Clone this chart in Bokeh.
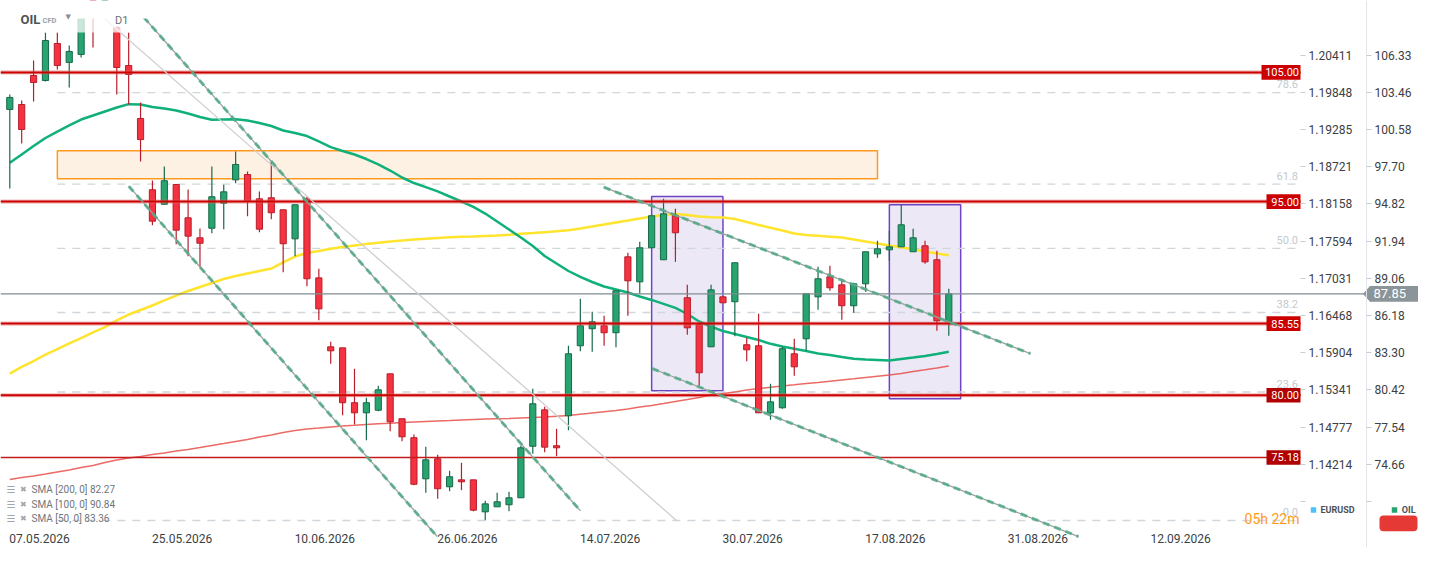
from bokeh.plotting import figure
from bokeh.models import Range1d, LinearAxis, FixedTicker
from bokeh.core.properties import value
from bokeh.embed import file_html
from bokeh.resources import INLINE

FONT = "Roboto"
SYM = "DejaVu Sans"

# ---------------- data (daily OHLC, bar index 0..79) ----------------
opens = [102.13, 102.51, 104.76, 104.37, 107.24, 105.77, 106.39, 110.57, 110.10, 108.48,
         105.53, 101.43, 95.91, 94.79, 96.32, 93.74, 92.19, 92.93, 94.87, 96.68,
         97.09, 95.21, 95.29, 94.36, 92.11, 95.21, 89.09, 83.75, 83.67, 79.42,
         78.64, 78.84, 81.66, 78.18, 76.71, 73.53, 75.08, 72.91, 73.45, 73.45,
         70.97, 71.36, 71.52, 72.06, 76.05, 78.87, 76.09, 78.41, 83.83, 85.15,
         85.38, 84.84, 90.72, 88.78, 91.42, 90.49, 93.90, 87.55, 85.46, 83.75,
         87.62, 87.24, 83.91, 83.83, 78.64, 79.03, 83.21, 84.37, 87.62, 89.17,
         88.55, 86.93, 88.63, 90.95, 91.26, 91.49, 91.11, 91.57, 90.49, 85.69]
highs = [103.29, 102.82, 105.92, 108.09, 108.09, 107.08, 110.26, 111.03, 112.46, 108.55,
         108.09, 102.67, 96.63, 97.71, 96.32, 95.93, 92.91, 97.71, 96.30, 98.87,
         97.33, 95.78, 98.02, 94.36, 94.75, 95.39, 89.79, 84.14, 83.67, 82.05,
         79.80, 80.73, 81.66, 78.18, 76.96, 76.01, 75.39, 74.15, 74.77, 73.45,
         71.83, 72.45, 72.52, 76.09, 80.50, 79.11, 77.40, 83.83, 87.47, 86.46,
         86.15, 88.09, 91.03, 91.88, 93.90, 95.21, 94.44, 88.55, 85.46, 88.55,
         87.62, 90.26, 84.45, 86.31, 80.89, 83.75, 84.37, 87.86, 89.95, 90.02,
         89.02, 88.71, 91.11, 91.96, 92.73, 94.75, 92.89, 91.96, 91.19, 88.24]
lows = [96.01, 99.49, 102.75, 104.29, 105.22, 103.83, 106.15, 106.93, 109.87, 103.29,
        102.51, 98.10, 93.17, 94.75, 91.70, 90.77, 89.92, 92.55, 92.86, 96.42,
        93.86, 92.63, 93.63, 89.53, 90.77, 88.44, 85.81, 82.43, 78.45, 77.73,
        76.52, 78.76, 77.22, 76.44, 73.03, 72.45, 71.98, 72.57, 72.65, 71.02,
        70.32, 71.36, 71.02, 72.06, 75.47, 75.59, 75.28, 77.29, 83.41, 83.36,
        83.83, 83.72, 86.15, 87.86, 91.42, 90.49, 90.33, 84.68, 80.73, 83.75,
        87.16, 84.57, 82.64, 78.64, 78.10, 78.95, 81.51, 83.44, 86.62, 88.09,
        85.84, 86.38, 88.01, 90.64, 90.41, 91.49, 91.11, 90.18, 84.99, 84.60]
closes = [103.06, 100.58, 104.22, 107.47, 105.53, 106.62, 109.79, 109.64, 111.80, 105.38,
          104.84, 99.80, 93.48, 96.61, 92.78, 92.32, 91.77, 95.37, 95.75, 97.87,
          95.00, 92.86, 94.13, 91.73, 94.75, 89.02, 86.69, 83.44, 79.42, 78.64,
          79.42, 80.42, 77.94, 76.78, 73.11, 75.00, 72.76, 73.69, 73.30, 71.10,
          71.59, 71.75, 72.06, 75.93, 79.34, 75.98, 75.93, 83.21, 85.38, 85.69,
          84.84, 88.09, 88.86, 91.42, 93.90, 94.05, 92.58, 85.22, 81.74, 88.16,
          87.16, 90.26, 83.52, 78.64, 79.49, 83.60, 82.20, 87.86, 89.02, 88.32,
          86.93, 88.63, 91.11, 91.34, 91.49, 93.20, 92.19, 90.33, 85.76, 87.85]

sma50 = [98.00, 98.64, 99.30, 99.92, 100.42, 100.89, 101.35, 101.66, 101.97, 102.28,
         102.54, 102.51, 102.32, 102.20, 102.05, 101.82, 101.55, 101.33, 101.35, 101.37,
         101.27, 101.08, 100.85, 100.50, 100.31, 100.07, 99.65, 99.21, 98.91, 98.64,
         98.29, 97.87, 97.40, 96.86, 96.43, 96.12, 95.78, 95.39, 95.00, 94.58,
         94.07, 93.45, 92.83, 92.21, 91.56, 90.78, 90.20, 89.62, 89.16, 88.77,
         88.42, 88.19, 87.96, 87.65, 87.38, 87.07, 86.76, 86.29, 85.71, 85.32,
         84.97, 84.74, 84.51, 84.28, 83.98, 83.77, 83.60, 83.43, 83.23, 83.12,
         82.96, 82.82, 82.77, 82.73, 82.69, 82.81, 82.92, 83.04, 83.19, 83.36]
sma100 = [81.68, 82.19, 82.65, 83.15, 83.58, 84.01, 84.43, 84.86, 85.28, 85.79,
          86.25, 86.60, 86.95, 87.34, 87.72, 88.07, 88.38, 88.69, 89.00, 89.23,
          89.43, 89.62, 89.81, 90.28, 90.74, 91.01, 91.17, 91.34, 91.48, 91.60,
          91.71, 91.80, 91.91, 91.98, 92.06, 92.11, 92.18, 92.24, 92.27, 92.29,
          92.33, 92.37, 92.42, 92.50, 92.56, 92.63, 92.69, 92.77, 92.91, 93.07,
          93.22, 93.38, 93.53, 93.69, 93.84, 93.96, 94.03, 93.96, 93.84, 93.78,
          93.76, 93.65, 93.41, 93.18, 92.97, 92.76, 92.52, 92.41, 92.35, 92.28,
          92.21, 92.06, 91.91, 91.75, 91.60, 91.46, 91.30, 91.13, 90.98, 90.84]
sma200 = [73.48, 73.63, 73.75, 73.90, 74.06, 74.21, 74.40, 74.56, 74.79, 74.99,
          75.14, 75.26, 75.41, 75.53, 75.68, 75.80, 75.95, 76.11, 76.26, 76.42,
          76.57, 76.77, 76.92, 77.11, 77.27, 77.39, 77.46, 77.54, 77.62, 77.67,
          77.73, 77.79, 77.84, 77.89, 77.93, 77.97, 78.01, 78.04, 78.08, 78.12,
          78.16, 78.18, 78.20, 78.24, 78.28, 78.32, 78.38, 78.43, 78.53, 78.63,
          78.73, 78.82, 78.94, 79.09, 79.21, 79.36, 79.52, 79.67, 79.83, 80.02,
          80.14, 80.25, 80.41, 80.52, 80.62, 80.72, 80.81, 80.91, 80.99, 81.09,
          81.18, 81.27, 81.37, 81.47, 81.57, 81.68, 81.84, 81.97, 82.11, 82.27]

x_tick_pos = [2.5, 14.5, 26.5, 38.5, 50.5, 62.5, 74.5, 86.5, 98.5]
x_tick_labels = ["07.05.2026", "25.05.2026", "10.06.2026", "26.06.2026", "14.07.2026",
                 "30.07.2026", "17.08.2026", "31.08.2026", "12.09.2026"]
oil_ticks = [106.33, 103.46, 100.58, 97.70, 94.82, 91.94, 89.06, 86.18, 83.30, 80.42, 77.54, 74.66]
eur_ticks = [1.20411, 1.19848, 1.19285, 1.18721, 1.18158, 1.17594, 1.17031, 1.16468,
             1.15904, 1.15341, 1.14777, 1.14214]
hidden_oil_tick, hidden_eur_tick = 71.78, 1.13650

levels = [105.00, 95.00, 85.55, 80.00, 75.18]
level_text = ["105.00", "95.00", "85.55", "80.00", "75.18"]
fib_high, fib_low = 112.46, 70.30
fib_levels = [0.0, 23.6, 38.2, 50.0, 61.8, 78.6]
fib_text = ["0.0", "23.6", "38.2", "50.0", "61.8", "78.6"]
last_price = 87.85

zone = dict(left=4, right=73, bottom=96.76, top=98.93)
boxes_left, boxes_right = [54, 74], [60, 80]
boxes_bottom, boxes_top = [80.34, 79.72], [95.39, 94.75]

chan_x0 = [11.27, 10.01, 49.97, 54.05]
chan_y0 = [109.27, 96.19, 96.11, 82.07]
chan_x1 = [48.01, 35.96, 85.87, 89.91]
chan_y1 = [71.05, 69.06, 83.22, 69.06]
thin_x0, thin_y0, thin_x1, thin_y1 = [7.99], [109.15], [56.09], [70.30]

sma_names = ["SMA [200, 0]", "SMA [100, 0]", "SMA [50, 0]"]
sma_last = [82.27, 90.84, 83.36]
series_names = ["EURUSD", "OIL"]

# ---------------- geometry helpers (screen px -> data) ----------------
BAR0, BARW = 9.3, 11.886          # px of bar 0, px per bar
PY0, PSC = 110.566, 0.077433      # price at px 0, price per px
def xi(px):
    return (px - BAR0) / BARW
def yp(py):
    return PY0 - PSC * py

W, H = 1418, 547
X0, X1 = xi(0), xi(W)
Y0, Y1 = yp(H), yp(0)
XR = xi(1300)          # right edge of the price area

p = figure(width=W, height=H, x_range=Range1d(X0, X1), y_range=Range1d(Y0, Y1),
           output_backend="svg", toolbar_location=None, y_axis_location=None,
           min_border=0, min_border_left=0, min_border_right=0,
           min_border_top=0, min_border_bottom=0)
p.outline_line_color = None
p.background_fill_color = "white"
p.border_fill_color = "white"
for g in p.grid:
    g.visible = False

# x axis (drawn just under the price area)
xa = p.xaxis[0]
xa.fixed_location = yp(525)
xa.ticker = FixedTicker(ticks=x_tick_pos)
xa.major_label_overrides = {t: s for t, s in zip(x_tick_pos, x_tick_labels)}
xa.axis_line_color = None
xa.major_tick_line_color = None
xa.minor_tick_line_color = None
xa.major_label_standoff = 2
xa.major_label_text_font = FONT
xa.major_label_text_font_size = "12px"
xa.major_label_text_color = "#3a3f44"

# right axes: EURUSD (inner) and OIL (outer)
a_ = (eur_ticks[0] - eur_ticks[-1]) / (oil_ticks[0] - oil_ticks[-1])
b_ = eur_ticks[0] - a_ * oil_ticks[0]
p.extra_y_ranges = {"eur": Range1d(b_ + a_ * Y0, b_ + a_ * Y1)}

eur_axis = LinearAxis(y_range_name="eur", fixed_location=XR,
                      ticker=FixedTicker(ticks=eur_ticks + [hidden_eur_tick]))
eur_axis.major_label_overrides = {**{t: f"{t:.5f}" for t in eur_ticks}, hidden_eur_tick: ""}
oil_axis = LinearAxis(fixed_location=xi(1366),
                      ticker=FixedTicker(ticks=oil_ticks + [hidden_oil_tick]))
oil_axis.major_label_overrides = {**{t: f"{t:.2f}" for t in oil_ticks}, hidden_oil_tick: ""}
for ax in (eur_axis, oil_axis):
    ax.major_tick_out = 5
    ax.major_tick_in = 0
    ax.minor_tick_line_color = None
    ax.major_tick_line_color = "#c9cdd1"
    ax.major_label_standoff = 3
    ax.major_label_text_font = FONT
    ax.major_label_text_font_size = "12px"
    ax.major_label_text_color = "#3c4043"
eur_axis.axis_line_color = None
oil_axis.axis_line_color = "#e3e6e8"
p.add_layout(eur_axis, "right")
p.add_layout(oil_axis, "right")

# zones
p.quad(left=[zone["left"]], right=[zone["right"]], bottom=[zone["bottom"]], top=[zone["top"]],
       fill_color="#fdf1e3", line_color="#ff9a1f", line_width=1.5)
p.quad(left=boxes_left, right=boxes_right, bottom=boxes_bottom, top=boxes_top,
       fill_color="#ece8f6", line_color="#6f45c6", line_width=1.5)

# fibonacci levels
fib_prices = [fib_low + f / 100.0 * (fib_high - fib_low) for f in fib_levels]
n_f = len(fib_prices)
p.segment(x0=[4] * n_f, y0=fib_prices, x1=[XR] * n_f, y1=fib_prices,
          line_color="#cfd6dc", line_width=1.3, line_dash="8 7")
p.text(x=[xi(1297.5)] * n_f, y=[v + 0.33 for v in fib_prices], text=fib_text,
       text_align="right", text_baseline="bottom", text_font=value(FONT),
       text_font_size="11px", text_color="#c3cad1")

# moving averages
idx = list(range(len(closes)))
p.line(idx, sma200, line_color="#e8504a", line_width=1.5, line_alpha=0.85)
p.line(idx, sma100, line_color="#ffe42e", line_width=2.5)
p.line(idx, sma50, line_color="#10b07a", line_width=2.5)

# candles
up = [c >= o for o, c in zip(opens, closes)]
body_fill = ["#27a46f" if u else "#f5323f" for u in up]
edge = ["#17694a" if u else "#b81d2c" for u in up]
p.segment(x0=idx, y0=highs, x1=idx, y1=lows, line_color=edge, line_width=1.2)
p.vbar(x=idx, width=0.52, top=[max(o, c) for o, c in zip(opens, closes)],
       bottom=[min(o, c) for o, c in zip(opens, closes)],
       fill_color=body_fill, line_color=edge, line_width=1)

# horizontal levels
main_lv = levels[:4]
p.segment(x0=[X0] * 4, y0=main_lv, x1=[XR] * 4, y1=main_lv, line_color="#e06a6a",
          line_width=4.2, line_alpha=0.45)
p.segment(x0=[X0] * 4, y0=main_lv, x1=[XR] * 4, y1=main_lv, line_color="#cc0000", line_width=2)
p.segment(x0=[X0], y0=[levels[4]], x1=[XR], y1=[levels[4]], line_color="#c41c1c", line_width=1.3)

# current price line (runs across the EURUSD scale up to the tag)
p.segment(x0=[X0], y0=[last_price], x1=[xi(1364)], y1=[last_price],
          line_color="#7f8b90", line_width=1.2)

# trend lines
p.segment(x0=thin_x0, y0=thin_y0, x1=thin_x1, y1=thin_y1, line_color="#cfcfcf", line_width=1.3)
p.segment(x0=chan_x0, y0=chan_y0, x1=chan_x1, y1=chan_y1, line_color="#9aa29f", line_width=1.3)
p.segment(x0=chan_x0, y0=chan_y0, x1=chan_x1, y1=chan_y1, line_color="#4ea883",
          line_width=3, line_alpha=0.8, line_dash="7 5")

# level tags
tag_left = [xi(1261)] + [xi(1266)] * 4
tag_col = ["#cc0000", "#cc0000", "#cc0000", "#b30000", "#b00000"]
p.quad(left=tag_left, right=[XR] * 5, bottom=[v - 0.57 for v in levels],
       top=[v + 0.57 for v in levels], fill_color=tag_col, line_color=None)
p.text(x=[xi(1298.5)] * 5, y=levels, text=level_text, text_align="right", text_baseline="middle",
       text_font=value(FONT), text_font_size="11px", text_color="white")

# countdown
p.text(x=[xi(1299)], y=[yp(518.5)], text=["05h 22m"], text_align="right", text_baseline="middle",
       text_font=value(FONT), text_font_size="14px", text_color="#ff9a1a")

# faded header strip and the blank area above the price pane
p.quad(left=[X0], right=[xi(136)], bottom=[yp(32)], top=[yp(17)], fill_color="white",
       fill_alpha=0.75, line_color=None)
p.quad(left=[X0 - 1], right=[XR], bottom=[yp(17)], top=[Y1 + 3.0], fill_color="white",
       line_color="white", line_width=2)


def txt(x, y, s, size, color, align="left", bold=False, font=FONT):
    p.text(x=[x], y=[y], text=[s], text_font=value(font), text_font_size=size,
           text_color=color, text_align=align, text_baseline="middle",
           text_font_style="bold" if bold else "normal")


# header
txt(xi(20), yp(18.5), "OIL", "13px", "#4d5358", bold=True)
txt(xi(42), yp(19.5), "CFD", "7.5px", "#9aa0a6", bold=True)
txt(xi(65), yp(16.5), "\u25bc", "7px", "#8a8f94", font=SYM)
txt(xi(114.5), yp(20), "D1", "11px", "#6b7075")

# SMA legend
for i, (nm, v) in enumerate(zip(sma_names, sma_last)):
    yy = yp(489 + i * 14.7)
    txt(xi(6), yy, "\u2630", "10px", "#a3a7ab", font=SYM)
    txt(xi(19.5), yy, "\u2716", "8px", "#a3a7ab", font=SYM)
    txt(xi(31), yy, f"{nm} {v:.2f}", "10px", "#70757a")

# price tag on the OIL scale
p.patch(x=[xi(1363), xi(1370), xi(1370)], y=[last_price, last_price + 0.61, last_price - 0.61],
        fill_color="#8a9499", line_color="#8a9499")
p.quad(left=[xi(1369.5)], right=[xi(1418)], bottom=[last_price - 0.61], top=[last_price + 0.61],
       fill_color="#8a9499", line_color=None)
txt(xi(1373), last_price, f"{last_price:.2f}", "13px", "white")

# series legend at the bottom right
p.scatter(x=[xi(1313), xi(1394)], y=[yp(509.5)] * 2, marker="square", size=5.5,
          fill_color=["#4fc3f7", "#27a46f"], line_color=None)
txt(xi(1320), yp(509.5), series_names[0], "9px", "#4a5056", bold=True)
txt(xi(1415), yp(509.5), series_names[1], "9px", "#4a5056", align="right", bold=True)
try:
    p.quad(left=[xi(1379)], right=[xi(1417)], bottom=[yp(530.7)], top=[yp(515)],
           fill_color="#e53935", line_color=None, border_radius=4)
except Exception:
    p.quad(left=[xi(1379)], right=[xi(1417)], bottom=[yp(530.7)], top=[yp(515)],
           fill_color="#e53935", line_color=None)

open("out.html", "w").write(file_html(p, INLINE))
